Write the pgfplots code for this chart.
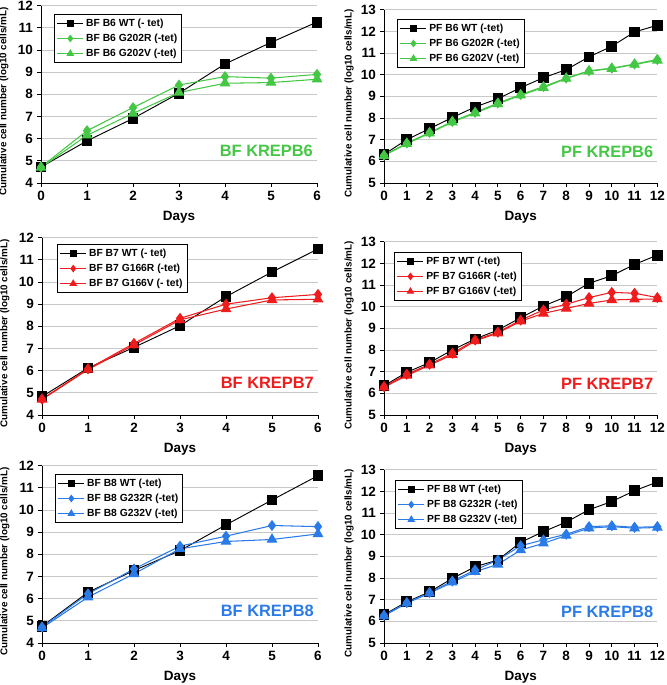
\documentclass[border=0pt]{standalone}
\usepackage{fontspec}
\setmainfont{Liberation Sans}
\usepackage{pgfplots}
\usepackage{pgfplotstable}
\pgfplotsset{compat=1.18}

\definecolor{greenK}{HTML}{44C744}
\definecolor{redK}{HTML}{EE1C1C}
\definecolor{blueK}{HTML}{2A7BE8}
\definecolor{gridK}{HTML}{C8C8C8}

% day, WT, R mutant, V mutant (log10 cells/mL)
\pgfplotstableread{
day wt r v
0 4.72 4.72 4.70
1 5.90 6.36 6.15
2 6.91 7.40 7.14
3 8.05 8.42 8.08
4 9.37 8.80 8.50
5 10.34 8.73 8.53
6 11.26 8.90 8.68
}\bfsix
\pgfplotstableread{
day wt r v
0 6.32 6.28 6.26
1 7.00 6.84 6.81
2 7.51 7.33 7.30
3 8.02 7.84 7.81
4 8.51 8.26 8.22
5 8.89 8.69 8.65
6 9.40 9.08 9.05
7 9.86 9.45 9.40
8 10.23 9.84 9.82
9 10.82 10.18 10.16
10 11.31 10.30 10.28
11 11.97 10.49 10.47
12 12.28 10.70 10.66
}\pfsix
\pgfplotstableread{
day wt r v
0 4.83 4.72 4.70
1 6.12 6.08 6.05
2 7.05 7.23 7.16
3 8.03 8.36 8.29
4 9.34 9.00 8.78
5 10.45 9.29 9.19
6 11.49 9.44 9.22
}\bfseven
\pgfplotstableread{
day wt r v
0 6.35 6.31 6.28
1 6.97 6.88 6.82
2 7.42 7.34 7.30
3 8.00 7.85 7.78
4 8.51 8.46 8.42
5 8.92 8.82 8.78
6 9.49 9.38 9.33
7 10.03 9.85 9.69
8 10.46 10.11 9.92
9 11.08 10.42 10.15
10 11.43 10.66 10.31
11 11.95 10.62 10.34
12 12.38 10.42 10.35
}\pfseven
\pgfplotstableread{
day wt r v
0 4.75 4.72 4.68
1 6.29 6.22 6.07
2 7.27 7.34 7.12
3 8.17 8.37 8.25
4 9.33 8.82 8.58
5 10.45 9.30 8.67
6 11.55 9.25 8.92
}\bfeight
\pgfplotstableread{
day wt r v
0 6.31 6.28 6.25
1 6.90 6.86 6.84
2 7.36 7.33 7.30
3 7.98 7.86 7.80
4 8.52 8.37 8.29
5 8.83 8.83 8.63
6 9.65 9.49 9.29
7 10.14 9.76 9.60
8 10.58 10.02 9.96
9 11.15 10.37 10.30
10 11.53 10.41 10.37
11 12.03 10.34 10.30
12 12.43 10.37 10.33
}\pfeight

\pgfplotsset{
  krep/.style={
    scale only axis, clip=false,
    anchor=south west,
    axis x line*=bottom, axis y line*=left,
    axis line style={-, black, line width=0.8pt},
    tick align=outside, major tick length=0.12cm,
    tick style={black, line width=0.8pt},
    ymajorgrids, grid style={gridK, line width=0.8pt},
    /pgf/number format/assume math mode=true,
    ticklabel style={font=\bfseries\fontsize{11.5}{12}\selectfont},
    xlabel={Days},
    xlabel style={font=\bfseries\fontsize{11.5}{12}\selectfont,
      at={(axis description cs:0.5,-0.195)}, anchor=center},
    ylabel={Cumulative cell number (log10 cells/mL)},
    ylabel style={font=\bfseries\fontsize{8.4}{10}\selectfont, anchor=center},
    legend style={draw=black, line width=0.8pt, fill=white,
      font=\bfseries\fontsize{8.8}{10}\selectfont,
      cells={anchor=west}, inner sep=2pt, row sep=1pt,
      anchor=north west},
    legend image code/.code={\draw[mark repeat=2, mark phase=2,
      every mark/.append style={scale=0.65}]
      plot coordinates {(0cm,0cm) (0.39cm,0cm) (0.78cm,0cm)};},
  },
  bfax/.style={krep, width=8.28cm, height=5.32cm,
    xmin=0, xmax=6, xtick={0,...,6}, ymin=4, ymax=12, ytick={4,...,12},
    ylabel style={at={(axis description cs:-0.135,0.46)}}},
  pfax/.style={krep, width=8.2cm, height=5.2cm,
    xmin=0, xmax=12, xtick={0,...,12}, ymin=5, ymax=13, ytick={5,...,13},
    ylabel style={at={(axis description cs:-0.128,0.46)}}},
  wtline/.style={black, line width=0.8pt, mark=square*, mark size=4.2pt,
    mark options={solid}},
  rline/.style={#1, line width=0.9pt, mark=diamond*, mark size=4pt,
    mark options={solid, fill=#1}},
  vline/.style={#1, line width=0.9pt, mark=triangle*, mark size=4.5pt,
    mark options={solid, fill=#1}},
}

\begin{document}
\begin{tikzpicture}
\path[use as bounding box] (0,0) rectangle (20.01cm,20.55cm);

% top row: KREPB6
\begin{axis}[bfax, at={(1.23cm,15.06cm)},
  legend style={at={(axis description cs:0.047,0.955)}}]
\addplot[wtline] table[x=day,y=wt] {\bfsix};
\addplot[rline=greenK] table[x=day,y=r] {\bfsix};
\addplot[vline=greenK] table[x=day,y=v] {\bfsix};
\legend{BF B6 WT (- tet), BF B6 G202R (-tet), BF B6 G202V (-tet)}
\node[anchor=east, text=greenK, font=\bfseries\fontsize{14}{16}\selectfont]
  at (rel axis cs:1,0.18) {BF KREPB6};
\end{axis}

\begin{axis}[pfax, at={(11.52cm,15.06cm)},
  legend style={at={(axis description cs:0.048,0.948)}}]
\addplot[wtline] table[x=day,y=wt] {\pfsix};
\addplot[rline=greenK] table[x=day,y=r] {\pfsix};
\addplot[vline=greenK] table[x=day,y=v] {\pfsix};
\legend{PF B6 WT (-tet), PF B6 G202R (-tet), PF B6 G202V (-tet)}
\node[anchor=east, text=greenK, font=\bfseries\fontsize{14}{16}\selectfont]
  at (rel axis cs:1,0.18) {PF KREPB6};
\end{axis}

% middle row: KREPB7
\begin{axis}[bfax, at={(1.26cm,8.10cm)},
  legend style={at={(axis description cs:0.054,0.966)}}]
\addplot[wtline] table[x=day,y=wt] {\bfseven};
\addplot[rline=redK] table[x=day,y=r] {\bfseven};
\addplot[vline=redK] table[x=day,y=v] {\bfseven};
\legend{BF B7 WT (- tet), BF B7 G166R (-tet), BF B7 G166V (- tet)}
\node[anchor=east, text=redK, font=\bfseries\fontsize{14}{16}\selectfont]
  at (rel axis cs:1,0.18) {BF KREPB7};
\end{axis}

\begin{axis}[pfax, at={(11.52cm,8.10cm)},
  legend style={at={(axis description cs:0.037,0.943)}}]
\addplot[wtline] table[x=day,y=wt] {\pfseven};
\addplot[rline=redK] table[x=day,y=r] {\pfseven};
\addplot[vline=redK] table[x=day,y=v] {\pfseven};
\legend{PF B7 WT (-tet), PF B7 G166R (-tet), PF B7 G166V (-tet)}
\node[anchor=east, text=redK, font=\bfseries\fontsize{14}{16}\selectfont]
  at (rel axis cs:1,0.18) {PF KREPB7};
\end{axis}

% bottom row: KREPB8
\begin{axis}[bfax, at={(1.26cm,1.26cm)},
  legend style={at={(axis description cs:0.047,0.955)}}]
\addplot[wtline] table[x=day,y=wt] {\bfeight};
\addplot[rline=blueK] table[x=day,y=r] {\bfeight};
\addplot[vline=blueK] table[x=day,y=v] {\bfeight};
\legend{BF B8 WT (-tet), BF B8 G232R (-tet), BF B8 G232V (-tet)}
\node[anchor=east, text=blueK, font=\bfseries\fontsize{14}{16}\selectfont]
  at (rel axis cs:1,0.18) {BF KREPB8};
\end{axis}

\begin{axis}[pfax, at={(11.52cm,1.26cm)},
  legend style={at={(axis description cs:0.04,0.942)}}]
\addplot[wtline] table[x=day,y=wt] {\pfeight};
\addplot[rline=blueK] table[x=day,y=r] {\pfeight};
\addplot[vline=blueK] table[x=day,y=v] {\pfeight};
\legend{PF B8 WT (-tet), PF B8 G232R (-tet), PF B8 G232V (-tet)}
\node[anchor=east, text=blueK, font=\bfseries\fontsize{14}{16}\selectfont]
  at (rel axis cs:1,0.18) {PF KREPB8};
\end{axis}
\end{tikzpicture}
\end{document}
